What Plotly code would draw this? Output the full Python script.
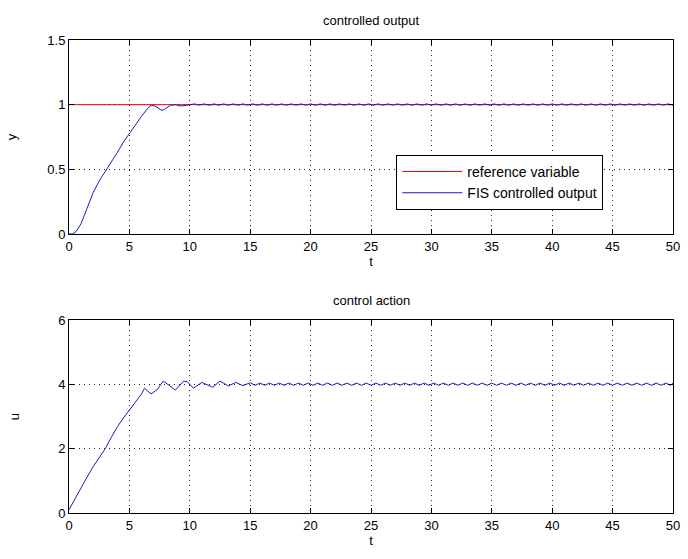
import plotly.graph_objects as go

# ---- data: top plot (controlled output) ----
t_ref = [0, 50]
y_ref = [1, 1]

t_y = [0, 0.3, 0.6, 1.0, 1.5, 2.0, 2.5, 3.0, 3.5, 4.0, 4.5, 5.0, 5.5, 6.0, 6.5, 6.8,
       7.1, 7.4, 7.7, 8.0, 8.4, 8.8, 9.2, 9.6, 10.0, 10.4, 10.8, 11.2, 11.6, 12.0, 12.4,
       12.8, 13.2, 13.6, 14.0, 14.4, 14.8, 15.2, 15.6, 16.0, 16.4, 16.8, 17.2, 17.6,
       18.0, 18.4, 18.8, 19.2, 19.6, 20.0, 20.4, 20.8, 21.2, 21.6, 22.0, 22.4, 22.8,
       23.2, 23.6, 24.0, 24.4, 24.8, 25.2, 25.6, 26.0, 26.4, 26.8, 27.2, 27.6, 28.0,
       28.4, 28.8, 29.2, 29.6, 30.0, 30.4, 30.8, 31.2, 31.6, 32.0, 32.4, 32.8, 33.2,
       33.6, 34.0, 34.4, 34.8, 35.2, 35.6, 36.0, 36.4, 36.8, 37.2, 37.6, 38.0, 38.4,
       38.8, 39.2, 39.6, 40.0, 40.4, 40.8, 41.2, 41.6, 42.0, 42.4, 42.8, 43.2, 43.6,
       44.0, 44.4, 44.8, 45.2, 45.6, 46.0, 46.4, 46.8, 47.2, 47.6, 48.0, 48.4, 48.8,
       49.2, 49.6, 50.0]
y_out = [0.0, 0.0, 0.02, 0.08, 0.2, 0.32, 0.41, 0.48, 0.55, 0.63, 0.71, 0.78, 0.84,
         0.91, 0.97, 0.995, 0.99, 0.97, 0.955, 0.97, 0.995, 1.0, 0.99, 0.993, 1.0,
         1.006, 0.996, 1.006, 0.996, 1.006, 0.996, 1.006, 0.996, 1.006, 0.996, 1.006,
         0.996, 1.006, 0.996, 1.006, 0.996, 1.006, 0.996, 1.006, 0.996, 1.006, 0.996,
         1.006, 0.996, 1.006, 0.996, 1.006, 0.996, 1.006, 0.996, 1.006, 0.996, 1.006,
         0.996, 1.006, 0.996, 1.006, 0.996, 1.006, 0.996, 1.006, 0.996, 1.006, 0.996,
         1.006, 0.996, 1.006, 0.996, 1.006, 0.996, 1.006, 0.996, 1.006, 0.996, 1.006,
         0.996, 1.006, 0.996, 1.006, 0.996, 1.006, 0.996, 1.006, 0.996, 1.006, 0.996,
         1.006, 0.996, 1.006, 0.996, 1.006, 0.996, 1.006, 0.996, 1.006, 0.996, 1.006,
         0.996, 1.006, 0.996, 1.006, 0.996, 1.006, 0.996, 1.006, 0.996, 1.006, 0.996,
         1.006, 0.996, 1.006, 0.996, 1.006, 0.996, 1.006, 0.996, 1.006, 0.996, 1.006,
         0.996, 1.006, 0.996]

# ---- data: bottom plot (control action) ----
t_u = [0, 0.5, 1.0, 1.5, 2.0, 2.5, 3.0, 3.5, 4.0, 4.5, 5.0, 5.5, 6.0, 6.25, 6.8, 7.3,
       7.8, 8.25, 8.8, 9.5, 9.8, 10.3, 11.0, 11.9, 12.5, 13.2, 13.8, 14.4, 15.0, 15.4,
       15.8, 16.2, 16.6, 17.0, 17.4, 17.8, 18.2, 18.6, 19.0, 19.4, 19.8, 20.2, 20.6,
       21.0, 21.4, 21.8, 22.2, 22.6, 23.0, 23.4, 23.8, 24.2, 24.6, 25.0, 25.4, 25.8,
       26.2, 26.6, 27.0, 27.4, 27.8, 28.2, 28.6, 29.0, 29.4, 29.8, 30.2, 30.6, 31.0,
       31.4, 31.8, 32.2, 32.6, 33.0, 33.4, 33.8, 34.2, 34.6, 35.0, 35.4, 35.8, 36.2,
       36.6, 37.0, 37.4, 37.8, 38.2, 38.6, 39.0, 39.4, 39.8, 40.2, 40.6, 41.0, 41.4,
       41.8, 42.2, 42.6, 43.0, 43.4, 43.8, 44.2, 44.6, 45.0, 45.4, 45.8, 46.2, 46.6,
       47.0, 47.4, 47.8, 48.2, 48.6, 49.0, 49.4, 49.8, 50.0]
u_out = [0.1, 0.45, 0.8, 1.12, 1.44, 1.72, 2.0, 2.35, 2.68, 2.95, 3.2, 3.45, 3.7, 3.88,
         3.7, 3.84, 4.1, 3.98, 3.82, 4.1, 4.08, 3.88, 4.06, 3.91, 4.1, 3.95, 4.06, 3.96,
         4.05, 3.97, 4.04, 3.97, 4.04, 3.97, 4.04, 3.97, 4.04, 3.97, 4.04, 3.97, 4.04,
         3.97, 4.04, 3.97, 4.04, 3.97, 4.04, 3.97, 4.04, 3.97, 4.04, 3.97, 4.04, 3.97,
         4.04, 3.97, 4.04, 3.97, 4.04, 3.97, 4.04, 3.97, 4.04, 3.97, 4.04, 3.97, 4.04,
         3.97, 4.04, 3.97, 4.04, 3.97, 4.04, 3.97, 4.04, 3.97, 4.04, 3.97, 4.04, 3.97,
         4.04, 3.97, 4.04, 3.97, 4.04, 3.97, 4.04, 3.97, 4.04, 3.97, 4.04, 3.97, 4.04,
         3.97, 4.04, 3.97, 4.04, 3.97, 4.04, 3.97, 4.04, 3.97, 4.04, 3.97, 4.04, 3.97,
         4.04, 3.97, 4.04, 3.97, 4.04, 3.97, 4.04, 3.97, 4.04, 3.97, 4.04, 3.97, 4.04]

x_ticks = [0, 5, 10, 15, 20, 25, 30, 35, 40, 45, 50]
y_ticks_top = [0, 0.5, 1, 1.5]
y_ticks_bot = [0, 2, 4, 6]

FONT = "Liberation Sans, Arial, sans-serif"
BLUE = "#1a1acc"

fig = go.Figure()
fig.add_trace(go.Scatter(x=t_ref, y=y_ref, mode="lines", name="reference variable",
                         line=dict(color="#ff0000", width=1), xaxis="x", yaxis="y"))
fig.add_trace(go.Scatter(x=t_y, y=y_out, mode="lines", name="FIS controlled output",
                         line=dict(color=BLUE, width=1), xaxis="x", yaxis="y"))
fig.add_trace(go.Scatter(x=t_u, y=u_out, mode="lines", showlegend=False,
                         line=dict(color=BLUE, width=1), xaxis="x2", yaxis="y2"))

axis_common = dict(showgrid=True, gridcolor="#222222", griddash="1px,4px", gridwidth=1,
                   showline=True, linecolor="#000000", linewidth=1, mirror="allticks",
                   ticks="inside", ticklen=5, tickcolor="#000000", zeroline=False,
                   tickfont=dict(family=FONT, size=13, color="#000000"))

fig.update_layout(
    width=688, height=559,
    margin=dict(l=69, r=8, t=40, b=46),
    paper_bgcolor="white", plot_bgcolor="white",
    font=dict(family=FONT, size=13, color="#000000"),
    xaxis=dict(domain=[0, 1], range=[0, 50], tickvals=x_ticks, anchor="y",
               title=dict(text="t", standoff=2, font=dict(size=13)), **axis_common),
    yaxis=dict(domain=[0.5899, 1], range=[0, 1.5], tickvals=y_ticks_top,
               ticktext=["0", "0.5", "1", "1.5"], anchor="x",
               title=dict(text="y", standoff=27, font=dict(size=13)), **axis_common),
    xaxis2=dict(domain=[0, 1], range=[0, 50], tickvals=x_ticks, anchor="y2",
                title=dict(text="t", standoff=4, font=dict(size=13)), **axis_common),
    yaxis2=dict(domain=[0, 0.408], range=[0, 6], tickvals=y_ticks_bot, anchor="x2",
                title=dict(text="u", standoff=35, font=dict(size=13)), **axis_common),
    legend=dict(x=0.542, y=0.757, xanchor="left", yanchor="top",
                bordercolor="#000000", borderwidth=1, bgcolor="white",
                font=dict(family=FONT, size=14), tracegroupgap=0, itemwidth=60),
    annotations=[
        dict(text="controlled output", xref="paper", yref="paper", x=0.5, y=1.042,
             xanchor="center", yanchor="middle", showarrow=False,
             font=dict(family=FONT, size=13)),
        dict(text="control action", xref="paper", yref="paper", x=0.5, y=0.45,
             xanchor="center", yanchor="middle", showarrow=False,
             font=dict(family=FONT, size=13)),
    ],
)

fig.write_html("out.html")
